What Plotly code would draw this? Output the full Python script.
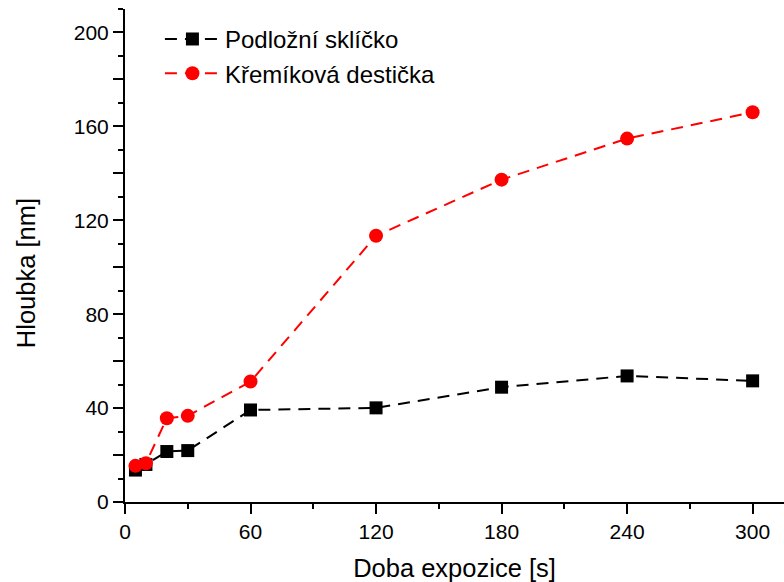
import plotly.graph_objects as go

# Exposure time [s]
doba = [5, 10, 20, 30, 60, 120, 180, 240, 300]
# Etch depth [nm] for each substrate
podlozni_sklicko = [13.6, 16.0, 21.5, 21.9, 39.2, 40.1, 48.9, 53.7, 51.6]
kremikova_desticka = [15.4, 16.5, 35.7, 36.7, 51.3, 113.4, 137.3, 154.8, 166.0]

# Y ticks every 20, labelled every 40
y_ticks = list(range(0, 201, 20))
y_labels = [str(v) if v % 40 == 0 else "" for v in y_ticks]
x_ticks = [0, 60, 120, 180, 240, 300]

font_family = "Liberation Sans, Arial, sans-serif"

fig = go.Figure()
fig.add_trace(go.Scatter(
    x=doba, y=podlozni_sklicko, name="Podložní sklíčko",
    mode="lines+markers",
    line=dict(color="black", width=2, dash="12px,8px"),
    marker=dict(symbol="square", size=13, color="black"),
))
fig.add_trace(go.Scatter(
    x=doba, y=kremikova_desticka, name="Křemíková destička",
    mode="lines+markers",
    line=dict(color="red", width=2, dash="12px,8px"),
    marker=dict(symbol="circle", size=14, color="red"),
))

axis_common = dict(
    showline=True, linecolor="black", linewidth=2,
    ticks="outside", ticklen=10, tickwidth=2, tickcolor="black",
    showgrid=False, zeroline=False, mirror=False,
    tickfont=dict(family=font_family, size=21, color="black"),
)

fig.update_xaxes(
    range=[0, 315], tickvals=x_ticks,
    minor=dict(dtick=30, ticklen=5, tickwidth=2, tickcolor="black", ticks="outside"),
    title=dict(text="Doba expozice [s]", font=dict(family=font_family, size=25.5, color="black"), standoff=19),
    **axis_common,
)
fig.update_yaxes(
    range=[0, 210], tickvals=y_ticks, ticktext=y_labels,
    minor=dict(dtick=10, ticklen=5, tickwidth=2, tickcolor="black", ticks="outside"),
    **axis_common,
)

# Y-axis title placed as a rotated annotation
fig.add_annotation(
    text="Hloubka [nm]", textangle=-90,
    xref="paper", yref="paper", x=-0.150, y=0.4645,
    xanchor="center", yanchor="middle", showarrow=False,
    font=dict(family=font_family, size=25.5, color="black"),
)

fig.update_layout(
    width=784, height=582,
    margin=dict(l=125, r=0, t=9, b=80),
    paper_bgcolor="white", plot_bgcolor="white",
    legend=dict(
        x=0.053, y=0.984, xanchor="left", yanchor="top",
        font=dict(family=font_family, size=24, color="black"),
        bgcolor="rgba(0,0,0,0)", itemwidth=55, tracegroupgap=0,
    ),
)

fig.write_html("out.html")
